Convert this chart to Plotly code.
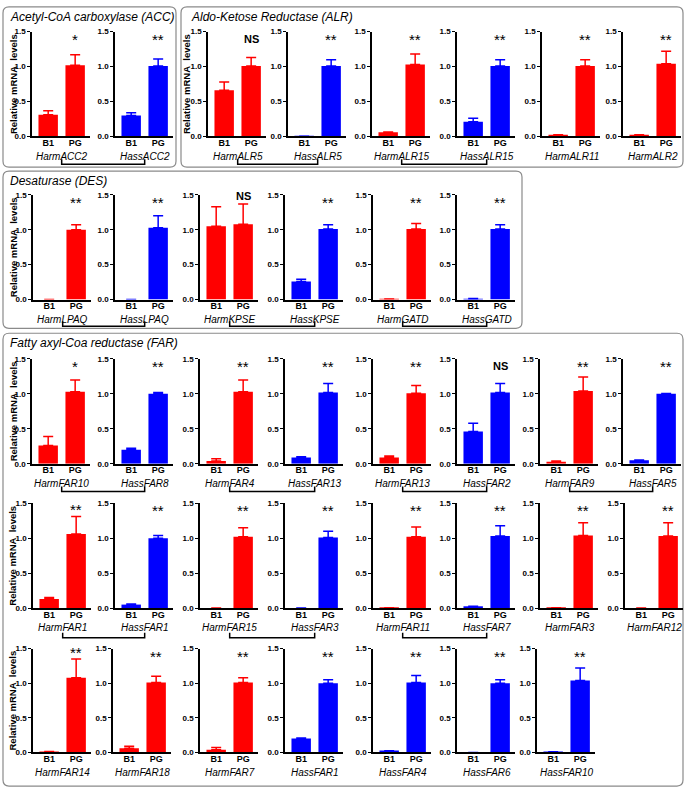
"""Relative mRNA levels, B1 vs PG, grouped by enzyme family."""

import plotly.graph_objects as go

W, H = 685, 794
RED = "#ff0000"
BLUE = "#0000ff"
FONT = "Liberation Sans, Arial, sans-serif"

# ---- data -----------------------------------------------------------------
# row 1: ACC + ALR
genes_r1 = ["HarmACC2", "HassACC2", "HarmALR5", "HassALR5",
            "HarmALR15", "HassALR15", "HarmALR11", "HarmALR2"]
b1_r1 = [0.31, 0.30, 0.66, 0.005, 0.06, 0.21, 0.02, 0.02]
pg_r1 = [1.02, 1.01, 1.01, 1.01, 1.03, 1.01, 1.01, 1.04]
b1_err_r1 = [0.06, 0.04, 0.12, 0.0, 0.005, 0.05, 0.005, 0.005]
pg_err_r1 = [0.15, 0.10, 0.12, 0.09, 0.15, 0.09, 0.09, 0.18]
sig_r1 = ["*", "**", "NS", "**", "**", "**", "**", "**"]

# row 2: DES
genes_r2 = ["HarmLPAQ", "HassLPAQ", "HarmKPSE", "HassKPSE", "HarmGATD", "HassGATD"]
b1_r2 = [0.0, 0.0, 1.05, 0.26, 0.01, 0.01]
pg_r2 = [1.00, 1.03, 1.08, 1.01, 1.01, 1.01]
b1_err_r2 = [0.0, 0.0, 0.28, 0.03, 0.0, 0.005]
pg_err_r2 = [0.07, 0.17, 0.29, 0.06, 0.08, 0.06]
sig_r2 = ["**", "**", "NS", "**", "**", "**"]

# rows 3-5: FAR
genes_r3 = ["HarmFAR10", "HassFAR8", "HarmFAR4", "HassFAR13",
            "HarmFAR13", "HassFAR2", "HarmFAR9", "HassFAR5"]
b1_r3 = [0.26, 0.20, 0.04, 0.09, 0.09, 0.46, 0.03, 0.05]
pg_r3 = [1.03, 1.00, 1.03, 1.02, 1.01, 1.02, 1.04, 1.00]
b1_err_r3 = [0.13, 0.02, 0.03, 0.01, 0.02, 0.12, 0.01, 0.005]
pg_err_r3 = [0.17, 0.02, 0.17, 0.13, 0.11, 0.13, 0.20, 0.005]
sig_r3 = ["*", "**", "**", "**", "**", "NS", "**", "**"]

genes_r4 = ["HarmFAR1", "HassFAR1", "HarmFAR15", "HassFAR3",
            "HarmFAR11", "HassFAR7", "HarmFAR3", "HarmFAR12"]
b1_r4 = [0.13, 0.05, 0.0, 0.0, 0.005, 0.02, 0.005, 0.0]
pg_r4 = [1.06, 1.00, 1.02, 1.01, 1.02, 1.03, 1.04, 1.03]
b1_err_r4 = [0.02, 0.01, 0.0, 0.0, 0.0, 0.005, 0.0, 0.0]
pg_err_r4 = [0.25, 0.04, 0.13, 0.09, 0.14, 0.15, 0.18, 0.19]
sig_r4 = ["**"] * 8

genes_r5 = ["HarmFAR14", "HarmFAR18", "HarmFAR7", "HassFAR1",
            "HassFAR4", "HassFAR6", "HassFAR10"]
b1_r5 = [0.01, 0.06, 0.04, 0.20, 0.02, 0.0, 0.01]
pg_r5 = [1.08, 1.01, 1.01, 1.00, 1.01, 1.00, 1.04]
b1_err_r5 = [0.005, 0.03, 0.03, 0.01, 0.005, 0.0, 0.0]
pg_err_r5 = [0.27, 0.09, 0.07, 0.05, 0.10, 0.05, 0.18]
sig_r5 = ["**"] * 7

# gene pairs (Harm / Hass orthologues) joined by a bracket under each row
pairs_r1 = [(0, 1), (2, 3), (4, 5)]
pairs_r2 = [(0, 1), (2, 3), (4, 5)]
pairs_r3 = [(0, 1), (2, 3), (4, 5), (6, 7)]
pairs_r4 = [(0, 1), (2, 3), (4, 5)]
pairs_r5 = []

categories = ["B1", "PG"]

# ---- layout (pixels) ------------------------------------------------------
rows = [
    dict(genes=genes_r1, b1=b1_r1, pg=pg_r1, b1e=b1_err_r1, pge=pg_err_r1, sig=sig_r1,
         pairs=pairs_r1, top=28, bot=134, bracket=162,
         xs=[32, 115, 208, 288, 372, 457, 542, 623], ylab=[13, 186]),
    dict(genes=genes_r2, b1=b1_r2, pg=pg_r2, b1e=b1_err_r2, pge=pg_err_r2, sig=sig_r2,
         pairs=pairs_r2, top=193, bot=299, bracket=326,
         xs=[33, 115, 200, 285, 373, 457], ylab=[13]),
    dict(genes=genes_r3, b1=b1_r3, pg=pg_r3, b1e=b1_err_r3, pge=pg_err_r3, sig=sig_r3,
         pairs=pairs_r3, top=359, bot=465, bracket=493,
         xs=[32, 115, 200, 285, 373, 457, 540, 623], ylab=[13]),
    dict(genes=genes_r4, b1=b1_r4, pg=pg_r4, b1e=b1_err_r4, pge=pg_err_r4, sig=sig_r4,
         pairs=pairs_r4, top=505, bot=611, bracket=641,
         xs=[33, 115, 200, 285, 373, 457, 540, 625], ylab=[13]),
    dict(genes=genes_r5, b1=b1_r5, pg=pg_r5, b1e=b1_err_r5, pge=pg_err_r5, sig=sig_r5,
         pairs=pairs_r5, top=652, bot=757, bracket=None,
         xs=[33, 113, 200, 285, 373, 457, 537], ylab=[13]),
]
PANEL_W = 58
X_RANGE = [-0.6, 1.55]

boxes = [
    ("Acetyl-CoA carboxylase (ACC)", 3, 3, 176, 165, 8),
    ("Aldo-Ketose Reductase (ALR)", 181, 3, 683, 165, 189),
    ("Desaturase (DES)", 3, 169, 522, 328, 8),
    ("Fatty axyl-Coa reductase (FAR)", 3, 333, 683, 791, 8),
]


def px(x):
    return x / W


def py(y):
    return 1 - y / H


def rounded(x0, y0, x1, y1, r=6):
    return (f"M {px(x0 + r)},{py(y0)} L {px(x1 - r)},{py(y0)} "
            f"Q {px(x1)},{py(y0)} {px(x1)},{py(y0 + r)} L {px(x1)},{py(y1 - r)} "
            f"Q {px(x1)},{py(y1)} {px(x1 - r)},{py(y1)} L {px(x0 + r)},{py(y1)} "
            f"Q {px(x0)},{py(y1)} {px(x0)},{py(y1 - r)} L {px(x0)},{py(y0 + r)} "
            f"Q {px(x0)},{py(y0)} {px(x0 + r)},{py(y0)} Z")


def nz(v):
    return v if v > 0 else None


fig = go.Figure()
layout = {}
annotations = []
shapes = []

n = 0
for row in rows:
    centers = []
    for i, gene in enumerate(row["genes"]):
        n += 1
        color = RED if gene.startswith("Harm") else BLUE
        x0 = row["xs"][i]
        fig.add_trace(go.Bar(
            x=[0, 1],
            y=[row["b1"][i], row["pg"][i]],
            width=0.72,
            marker=dict(color=color, line=dict(width=0)),
            error_y=dict(type="data", symmetric=False,
                         array=[nz(row["b1e"][i]), nz(row["pge"][i])],
                         arrayminus=[0, 0], color=color, thickness=1.5, width=5),
            xaxis=f"x{n}", yaxis=f"y{n}", showlegend=False, hoverinfo="skip",
        ))
        layout[f"xaxis{n}"] = dict(
            domain=[px(x0), px(x0 + PANEL_W)], anchor=f"y{n}", range=X_RANGE,
            tickvals=[0, 1], ticktext=categories, ticks="", showline=True,
            linecolor="black", linewidth=1.5, showgrid=False, zeroline=False,
            ticklabelstandoff=-3,
            tickfont=dict(family=FONT, size=9, color="black", weight="bold"),
            fixedrange=True,
        )
        layout[f"yaxis{n}"] = dict(
            domain=[py(row["bot"]), py(row["top"])], anchor=f"x{n}", range=[0, 1.5],
            tickmode="linear", tick0=0, dtick=0.5, tickformat=".1f",
            ticks="outside", ticklen=3, tickwidth=1.2, tickcolor="black",
            showline=True, linecolor="black", linewidth=1.5, showgrid=False,
            zeroline=False, fixedrange=True,
            tickfont=dict(family=FONT, size=8, color="black", weight="bold"),
        )
        # gene name under the B1 / PG labels
        annotations.append(dict(
            x=0.5, xref=f"x{n}", y=py(row["bot"] + 20), yref="paper",
            text=f"<i>{gene}</i>", showarrow=False, xanchor="center", yanchor="middle",
            font=dict(family=FONT, size=10, color="black"),
        ))
        # significance
        s = row["sig"][i]
        level = max(1.36, row["pg"][i] + row["pge"][i] + 0.07)
        if s == "NS":
            annotations.append(dict(
                x=1, xref=f"x{n}", y=level + 0.04, yref=f"y{n}", text="<b>NS</b>",
                showarrow=False, xanchor="center", yanchor="middle",
                font=dict(family=FONT, size=11, color="black"),
            ))
        else:
            annotations.append(dict(
                x=1, xref=f"x{n}", y=level + 0.03, yref=f"y{n}", text=s,
                showarrow=False, xanchor="center", yanchor="middle",
                font=dict(family=FONT, size=15, color="black"),
            ))
        d = layout[f"xaxis{n}"]["domain"]
        centers.append(d[0] + (0.5 - X_RANGE[0]) / (X_RANGE[1] - X_RANGE[0]) * (d[1] - d[0]))

    for xl in row["ylab"]:
        annotations.append(dict(
            x=px(xl), xref="paper", y=py((row["top"] + row["bot"]) / 2), yref="paper",
            text="<b>Relative mRNA&nbsp; levels</b>", textangle=-90, showarrow=False,
            xanchor="center", yanchor="middle",
            font=dict(family=FONT, size=9.5, color="black"),
        ))

    if row["bracket"] is not None:
        yb = row["bracket"]
        for a, b in row["pairs"]:
            shapes.append(dict(
                type="path", xref="paper", yref="paper",
                path=(f"M {centers[a]},{py(yb - 5)} L {centers[a]},{py(yb)} "
                      f"L {centers[b]},{py(yb)} L {centers[b]},{py(yb - 5)}"),
                line=dict(color="black", width=1.5),
            ))

for title, x0, y0, x1, y1, tx in boxes:
    shapes.append(dict(type="path", xref="paper", yref="paper", path=rounded(x0, y0, x1, y1),
                       line=dict(color="#8a8a8a", width=1.2), layer="below"))
    annotations.append(dict(
        x=px(tx), xref="paper", y=py(y0 + 10), yref="paper", text=f"<i>{title}</i>",
        showarrow=False, xanchor="left", yanchor="middle",
        font=dict(family=FONT, size=12, color="black"),
    ))

fig.update_layout(
    width=W, height=H,
    margin=dict(l=0, r=0, t=0, b=0),
    paper_bgcolor="white", plot_bgcolor="white",
    annotations=annotations, shapes=shapes,
    **layout,
)
# drop the browser's default body margin so the figure sits at the window origin
fig.write_html("out.html", config={"displayModeBar": False},
               post_script="document.body.style.margin='0';document.body.style.overflow='hidden';")
